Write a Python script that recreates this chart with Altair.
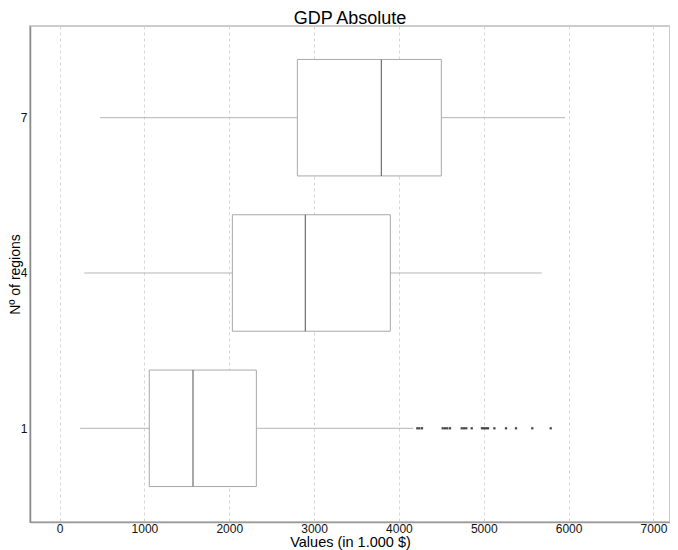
import altair as alt
import pandas as pd

# ---- data ----
regions = [1, 4, 7]
lower_whisker = [242, 292, 477]
q1 = [1058, 2037, 2803]
median = [1573, 2897, 3793]
q3 = [2320, 3899, 4500]
upper_whisker = [4170, 5683, 5958]

outliers_region1 = [4217, 4241, 4272, 4516, 4543, 4570, 4602, 4740, 4767, 4794,
                    4858, 4979, 5003, 5027, 5050, 5125, 5262, 5380, 5572, 5789]

x_ticks = [0, 1000, 2000, 3000, 4000, 5000, 6000, 7000]
y_ticks = [1, 4, 7]

BOX_HALF = 1.125  # half height of each box in axis units (style)

df = pd.DataFrame({
    "region": regions,
    "lw": lower_whisker,
    "q1": q1,
    "med": median,
    "q3": q3,
    "uw": upper_whisker,
})
df["ylo"] = df["region"] - BOX_HALF
df["yhi"] = df["region"] + BOX_HALF

out_df = pd.DataFrame({"region": [1] * len(outliers_region1), "value": outliers_region1})

FONT = "Liberation Sans"

PLOT_W = 640
PLOT_H = 496

xscale = alt.Scale(domain=[-348, 7195], nice=False, zero=False)
yscale = alt.Scale(domain=[-0.81, 8.771], nice=False, zero=False)

xaxis = alt.Axis(
    values=x_ticks, format="d", title="Values (in 1.000 $)", grid=True, gridDash=[3, 3],
    gridColor="#d6d6d6", gridWidth=1, ticks=False, labelPadding=1,
    labelFontSize=12, labelFont=FONT, labelColor="#111",
    titleFontSize=14.5, titleFont=FONT, titleFontWeight="normal",
    titleColor="#000", titleY=20.5, titleBaseline="middle",
    domainColor="#9a9a9a", domainWidth=1.3,
)
yaxis = alt.Axis(
    values=y_ticks, format="d", title="Nº of regions", grid=False, ticks=False, labelPadding=3,
    labelFontSize=12, labelFont=FONT, labelColor="#111",
    titleFontSize=14, titleFont=FONT, titleFontWeight="normal",
    titleColor="#000", titleX=-14.5, titleY=PLOT_H / 2, titleAngle=270,
    titleBaseline="middle", titleAlign="center",
    domainColor="#8a8a8a", domainWidth=1.5,
)

base = alt.Chart(df)

whisker = base.mark_rule(color="#b5b5b5", strokeWidth=1).encode(
    x=alt.X("lw:Q", scale=xscale, axis=xaxis),
    x2="uw:Q",
    y=alt.Y("region:Q", scale=yscale, axis=yaxis),
)

box = base.mark_rect(fill="white", stroke="#a8a8a8", strokeWidth=1).encode(
    x=alt.X("q1:Q", scale=xscale),
    x2="q3:Q",
    y=alt.Y("ylo:Q", scale=yscale),
    y2="yhi:Q",
)

med = base.mark_rule(color="#6e6e6e", strokeWidth=1.2).encode(
    x=alt.X("med:Q", scale=xscale),
    y=alt.Y("ylo:Q", scale=yscale),
    y2="yhi:Q",
)

pts = alt.Chart(out_df).mark_square(size=5, color="#444444", opacity=1).encode(
    x=alt.X("value:Q", scale=xscale),
    y=alt.Y("region:Q", scale=yscale),
)

chart = alt.layer(whisker, box, med, pts).properties(
    width=PLOT_W,
    height=PLOT_H,
    autosize=alt.AutoSizeParams(type="none"),
    padding={"left": 22, "top": 18, "right": 0, "bottom": 28},
    title=alt.Title("GDP Absolute", fontSize=18, font=FONT,
                    fontWeight="normal", color="#000", offset=-2, anchor="middle"),
).configure_view(
    stroke="#cccccc", strokeWidth=2
)

chart.save("out.html", embed_options={"renderer": "svg", "actions": False})
